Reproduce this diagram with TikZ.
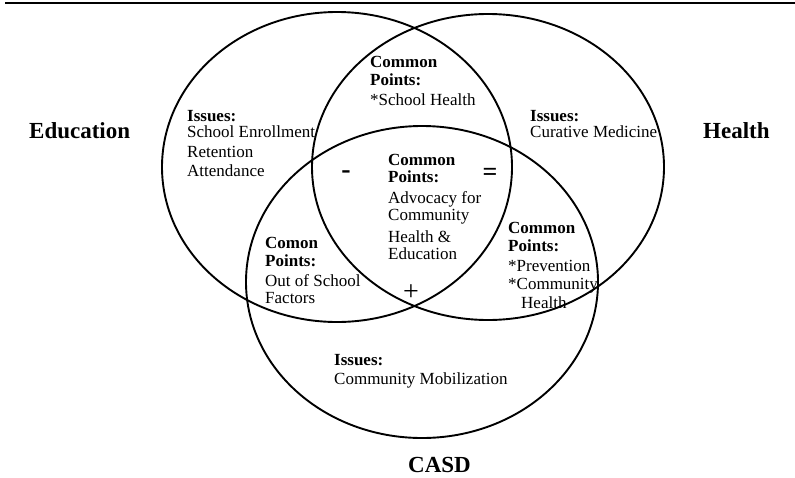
\documentclass[tikz,border=0pt]{standalone}
\usepackage{fontspec}
\setmainfont{Liberation Serif}
\begin{document}
\begin{tikzpicture}[x=1pt,y=-1pt,
  ring/.style={line width=1.9pt},
  blk/.style={anchor=base west,align=left,inner sep=0pt,font=\fontsize{17}{17}\selectfont},
  lbl/.style={anchor=base west,inner sep=0pt,font=\fontsize{23}{23}\selectfont\bfseries},
  sgn/.style={inner sep=0pt,font=\fontsize{28}{28}\selectfont}]
  \useasboundingbox (0,0) rectangle (795,477);
  \draw[line width=2.8pt] (5,3) -- (795,3);
  \draw[ring] (337,167) ellipse [x radius=175, y radius=155];
  \draw[ring] (488,167) ellipse [x radius=176, y radius=153];
  \draw[ring] (422,282) ellipse [x radius=176, y radius=156];
  \draw (29,138) node[lbl] (edu) {Education};
  \draw (703,138) node[lbl] (hea) {Health};
  \draw (408,472) node[lbl] (casd) {CASD};
  \draw (187,176) node[blk] (eduiss)
   {{\bfseries Issues:}\\[-1pt] School Enrollment\\[3pt] Retention\\[2pt] Attendance};
  \draw (370,105) node[blk] (eduhea)
   {{\bfseries Common}\\[1pt] {\bfseries Points:}\\[3pt] *School Health};
  \draw (530,137) node[blk] (heaiss)
   {{\bfseries Issues:}\\[-1pt] Curative Medicine};
  \draw (388,259) node[blk] (mid)
   {{\bfseries Common}\\ {\bfseries Points:}\\[4pt] Advocacy for\\ Community\\[5pt] Health \&\\ Education};
  \draw (265,303) node[blk] (educasd)
   {{\bfseries Comon}\\[1pt] {\bfseries Points:}\\[3pt] Out of School\\ Factors};
  \draw (508,308) node[blk] (heacasd)
   {{\bfseries Common}\\[1pt] {\bfseries Points:}\\[3pt] *Prevention\\[1pt] *Community\\[2pt] \hspace*{13pt}Health};
  \draw (334,384) node[blk] (casdiss)
   {{\bfseries Issues:}\\[2pt] Community Mobilization};
  \draw (346,175) node[sgn,font=\fontsize{28}{28}\selectfont\bfseries] (minus) {-};
  \draw (490,174) node[sgn,font=\fontsize{26}{26}\selectfont\bfseries] (eq) {=};
  \draw (411,293) node[sgn] (plus) {+};
\end{tikzpicture}
\end{document}
